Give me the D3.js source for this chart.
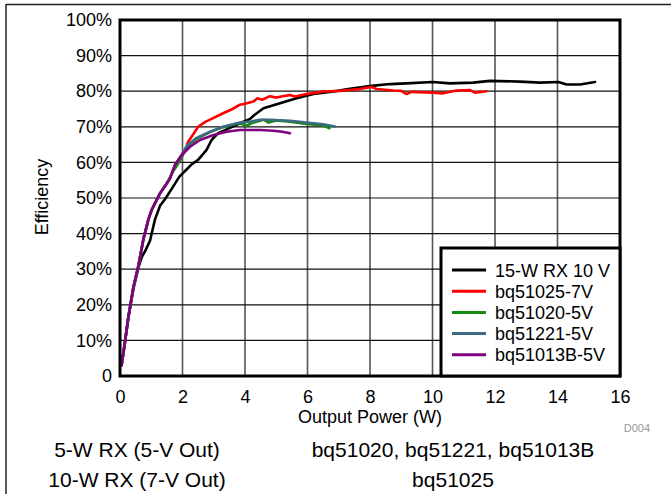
<!DOCTYPE html>
<html><head><meta charset="utf-8">
<script src="https://cdn.jsdelivr.net/npm/d3@7"></script>
<style>
html,body{margin:0;padding:0;background:#fff;}
svg{display:block;font-family:"Liberation Sans",Arial,sans-serif;}
</style></head>
<body><svg id="c" width="671" height="494"></svg>
<script>
// ---- data ----
const seriesNames = ["15-W RX 10 V","bq51025-7V","bq51020-5V","bq51221-5V","bq51013B-5V"];
const seriesColors = ["#000000","#ff0000","#138a13","#3c6a80","#800080"];
const xTicks = [0,2,4,6,8,10,12,14,16];
const yTicks = [0,10,20,30,40,50,60,70,80,90,100];
const yTickLabels = ["0","10%","20%","30%","40%","50%","60%","70%","80%","90%","100%"];

const rx15W = [[0.05,3],[0.15,9],[0.27,16.5],[0.43,24.5],[0.59,30.5],[0.7,33.5],[0.8,35],[0.96,38],[1.12,44],[1.28,47.8],[1.45,49.8],[1.7,53.2],[1.9,56],[2.13,58],[2.3,59.5],[2.5,60.7],[2.77,63.5],[2.93,66.3],[3.14,68.2],[3.52,69.7],[3.84,71],[4.16,72.2],[4.3,73.3],[4.59,75.2],[5.12,76.6],[5.65,78],[6.19,79.2],[6.83,79.9],[7.3,80.6],[8.05,81.5],[8.64,82],[9.17,82.2],[10.0,82.6],[10.56,82.2],[11.3,82.4],[11.84,82.9],[12.8,82.7],[13.44,82.4],[14.03,82.6],[14.29,81.9],[14.72,81.9],[15.2,82.6]];
const bq51025 = [[0.05,3],[0.15,9],[0.27,16.7],[0.43,25],[0.59,31],[0.75,38.5],[0.91,44],[1.01,46.6],[1.28,51.3],[1.49,54],[1.6,55.5],[1.76,59.3],[1.97,62],[2.1,63.8],[2.18,65.8],[2.35,68],[2.5,70],[2.73,71.4],[2.88,72],[3.3,73.8],[3.6,75],[3.84,76.2],[4.0,76.5],[4.27,77.1],[4.4,78],[4.55,77.6],[4.8,78.6],[5.01,78.2],[5.2,78.6],[5.44,78.9],[5.6,78.5],[5.97,79.2],[6.3,79.6],[6.5,79.9],[7.04,80.1],[7.57,80.5],[8.05,81.2],[8.21,80.6],[8.75,80.2],[9.0,80.1],[9.17,79.2],[9.33,79.8],[10.03,79.6],[10.34,79.4],[10.77,80.2],[11.2,80.3],[11.36,79.6],[11.73,80]];
const bq51020 = [[0.05,3],[0.15,9],[0.27,16.7],[0.43,25],[0.59,31],[0.75,38.5],[0.91,44],[1.01,46.6],[1.28,51.3],[1.49,54],[1.7,57.5],[1.85,59.5],[1.97,61.3],[2.13,64.3],[2.45,66.6],[2.88,68.5],[3.3,69.9],[3.7,70.8],[3.84,71],[4.05,70.3],[4.2,71],[4.6,72],[4.75,71.2],[5.0,71.8],[5.44,71.4],[5.97,70.8],[6.5,70.4],[6.6,70],[6.7,69.6]];
const bq51221 = [[0.05,3],[0.15,9],[0.27,16.7],[0.43,25],[0.59,31],[0.75,38.5],[0.91,44],[1.01,46.6],[1.28,51.3],[1.49,54],[1.6,55.5],[1.76,59.3],[1.97,62],[2.13,64.6],[2.45,66.9],[2.88,68.6],[3.3,70],[3.84,71.2],[4.2,71.5],[4.48,72],[4.8,72],[5.44,71.7],[5.97,71.2],[6.5,70.7],[6.88,70.1]];
const bq51013B = [[0.05,3],[0.15,9],[0.27,16.7],[0.43,25],[0.59,31],[0.75,38.5],[0.91,44],[1.01,46.6],[1.28,51.3],[1.49,54],[1.6,55.5],[1.76,59.3],[1.97,62],[2.24,64.4],[2.56,66.3],[2.99,67.7],[3.41,68.6],[3.84,69.1],[4.48,69.1],[4.9,68.9],[5.2,68.6],[5.44,68.2]];
const seriesData = [rx15W,bq51025,bq51020,bq51221,bq51013B];

const footLeft = ["5-W RX (5-V Out)","10-W RX (7-V Out)"];
const footRight = ["bq51020, bq51221, bq51013B","bq51025"];

// ---- layout ----
const svg = d3.select("#c");
const L=120,R=620,T=20,B=376;
const x = d3.scaleLinear().domain([0,16]).range([L,R]);
const y = d3.scaleLinear().domain([0,100]).range([B,T]);

// outer frame (top + left rule)
svg.append("line").attr("x1",6).attr("x2",671).attr("y1",4.5).attr("y2",4.5).attr("stroke","#222").attr("stroke-width",1.5);
svg.append("line").attr("x1",6).attr("x2",6).attr("y1",4).attr("y2",494).attr("stroke","#222").attr("stroke-width",1.5);

// grid
const g = svg.append("g");
g.selectAll(".vg").data(xTicks.slice(1,-1)).join("line")
  .attr("x1",d=>x(d)).attr("x2",d=>x(d)).attr("y1",T).attr("y2",B)
  .attr("stroke","#555").attr("stroke-width",1.6);
g.selectAll(".hg").data(yTicks.slice(1,-1)).join("line")
  .attr("x1",L).attr("x2",R).attr("y1",d=>y(d)).attr("y2",d=>y(d))
  .attr("stroke","#111").attr("stroke-width",1.2);

// curves
const line = d3.line().x(d=>x(d[0])).y(d=>y(d[1]));
seriesData.forEach((s,i)=>{
  svg.append("path").datum(s).attr("d",line).attr("fill","none")
    .attr("stroke",seriesColors[i]).attr("stroke-width",2.6)
    .attr("stroke-linejoin","round").attr("stroke-linecap","round");
});

// axes (labels only)
const fs = 18;
const xa = svg.append("g").attr("transform",`translate(0,${B})`)
  .call(d3.axisBottom(x).tickValues(xTicks).tickSize(0).tickPadding(14).tickFormat(d3.format("d")));
xa.select(".domain").remove();
xa.selectAll("text").attr("font-size",fs).attr("fill","#000").attr("font-family","Liberation Sans, Arial, sans-serif");
const ya = svg.append("g").attr("transform",`translate(${L},0)`)
  .call(d3.axisLeft(y).tickValues(yTicks).tickSize(0).tickPadding(8).tickFormat((d,i)=>yTickLabels[i]));
ya.select(".domain").remove();
ya.selectAll("text").attr("font-size",fs).attr("fill","#000").attr("font-family","Liberation Sans, Arial, sans-serif");

// plot frame
svg.append("rect").attr("x",L).attr("y",T).attr("width",R-L).attr("height",B-T)
  .attr("fill","none").attr("stroke","#000").attr("stroke-width",3);

// axis titles
svg.append("text").attr("x",370).attr("y",423).attr("text-anchor","middle").attr("font-size",fs).text("Output Power (W)");
svg.append("text").attr("transform","translate(48,197) rotate(-90)").attr("text-anchor","middle").attr("font-size",fs).text("Efficiency");
svg.append("text").attr("x",650).attr("y",432).attr("text-anchor","end").attr("font-size",11).attr("fill","#999").text("D004");

// legend
const lg = svg.append("g");
lg.append("rect").attr("x",441).attr("y",248).attr("width",R-441).attr("height",B-248)
  .attr("fill","#fff").attr("stroke","#000").attr("stroke-width",3);
seriesNames.forEach((n,i)=>{
  const yy = 270 + i*21.2;
  lg.append("line").attr("x1",452).attr("x2",486).attr("y1",yy).attr("y2",yy)
    .attr("stroke",seriesColors[i]).attr("stroke-width",3);
  lg.append("text").attr("x",495).attr("y",yy+6.5).attr("font-size",fs).text(n);
});

// footer
const ffs = 21;
footLeft.forEach((t,i)=>{
  svg.append("text").attr("x",137).attr("y",457+i*30).attr("text-anchor","middle").attr("font-size",ffs).text(t);
});
footRight.forEach((t,i)=>{
  svg.append("text").attr("x",453).attr("y",457+i*30).attr("text-anchor","middle").attr("font-size",ffs).text(t);
});
</script></body></html>
